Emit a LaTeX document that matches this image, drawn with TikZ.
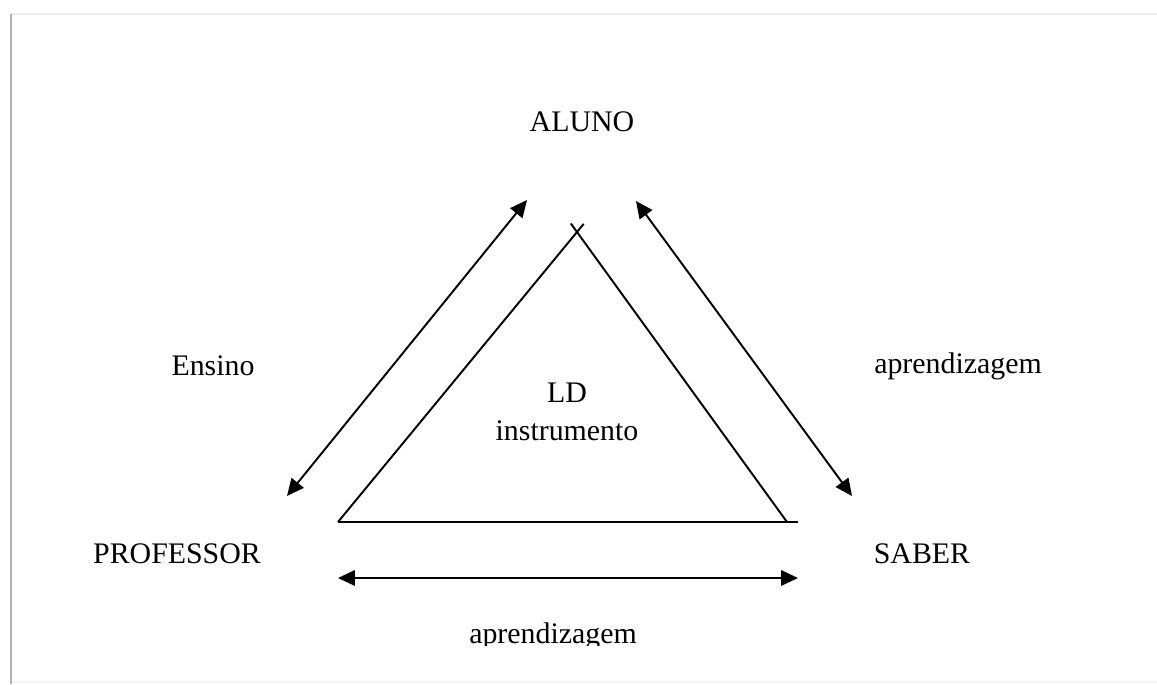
\documentclass[tikz,border=0pt]{standalone}
\usepackage{fontspec}
\setmainfont{Liberation Serif}
\usetikzlibrary{arrows.meta,calc}

\begin{document}
\begin{tikzpicture}[x=0.02cm, y=-0.02cm,
    lbl/.style={font=\fontsize{17}{21}\selectfont, inner sep=0pt},
    dbl/.style={{Triangle[length=3.4mm,width=3.1mm]}-{Triangle[length=3.4mm,width=3.1mm]}, line width=1.1pt}]

    \useasboundingbox (0,0) rectangle (1157,684);

    %% Page edge
    \draw[gray!15, line width=1pt] (11,14) -- (1157,14);
    \draw[gray!8, line width=1pt] (11,682) -- (1157,682);
    \draw[gray!60, line width=1.3pt] (11,14) -- (11,684);

    \begin{scope}
    \clip (12,15) rectangle (1157,645);

    % Corners
    \node[lbl] (aluno) at (582,122) {ALUNO};
    \node[lbl] (prof) at (177,554) {PROFESSOR};
    \node[lbl] (saber) at (922,554) {SABER};

    % Relations
    \node[lbl] (ensino) at (213,366) {Ensino};
    \node[lbl] (aprdir) at (958,366) {aprendizagem};
    \node[lbl] (aprbaixo) at (553,636) {aprendizagem};

    % LD in the middle
    \node[lbl, align=center] (ld) at (567,412) {LD\\[1pt]instrumento};

    % Inner triangle
    \coordinate (topo) at (577,232);
    \coordinate (esq) at (338,522);
    \coordinate (dir) at (787,522);
    \draw[line width=1.1pt] (esq) -- ($(topo)!-6pt!(esq)$);
    \draw[line width=1.1pt] (dir) -- ($(topo)!-6pt!(dir)$);
    \draw[line width=1.1pt] (esq) -- (798,522);

    % Arrows
    \coordinate (a1) at (527,200);
    \coordinate (a2) at (287,496);
    \coordinate (b1) at (636,201);
    \coordinate (b2) at (852,496);
    \coordinate (c1) at (338,578);
    \coordinate (c2) at (798,578);
    \draw[dbl] (a1) -- (a2);
    \draw[dbl] (b1) -- (b2);
    \draw[dbl] (c1) -- (c2);
    \end{scope}

\end{tikzpicture}
\end{document}
